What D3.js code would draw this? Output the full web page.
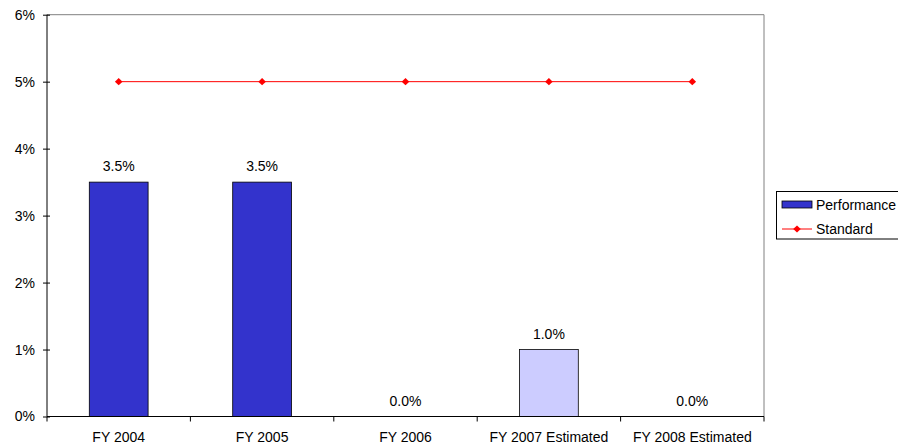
<!DOCTYPE html>
<html><head><meta charset="utf-8">
<script src="https://cdn.jsdelivr.net/npm/d3@7"></script>
<style>body{margin:0;background:#fff;} text{font-family:"Liberation Sans",Arial,sans-serif;}</style>
</head><body><svg id="c" width="898" height="446"></svg>
<script>
const categories = ["FY 2004","FY 2005","FY 2006","FY 2007 Estimated","FY 2008 Estimated"];
const performance = [3.5, 3.5, 0.0, 1.0, 0.0];
const estimated = [false, false, false, true, true];
const standard = [5, 5, 5, 5, 5];
const yTicks = [0,1,2,3,4,5,6];

const FS = 14;
const svg = d3.select("#c");
const L = 47, R = 764, T = 14.7, B = 416.5;
const x = d3.scaleBand().domain(categories).range([L, R]);
const y = d3.scaleLinear().domain([0, 6]).range([B, T]);

// plot border top & right
svg.append("line").attr("x1", L).attr("x2", R).attr("y1", T).attr("y2", T).attr("stroke", "#808080");
svg.append("line").attr("x1", R).attr("x2", R).attr("y1", T).attr("y2", B).attr("stroke", "#808080");

const bw = x.bandwidth() * 0.41;
svg.selectAll("rect.bar").data(performance).enter().append("rect")
  .attr("x", (d, i) => x(categories[i]) + x.bandwidth() / 2 - bw / 2)
  .attr("y", d => y(d)).attr("width", bw).attr("height", d => y(0) - y(d))
  .attr("fill", (d, i) => estimated[i] ? "#CCCCFF" : "#3333CC")
  .attr("stroke", "#000").attr("stroke-width", 0.8);

svg.selectAll("text.lbl").data(performance).enter().append("text")
  .attr("x", (d, i) => x(categories[i]) + x.bandwidth() / 2)
  .attr("y", d => y(d) - 11).attr("text-anchor", "middle")
  .attr("font-size", FS).attr("fill", "#000")
  .text(d => d.toFixed(1) + "%");

// axes
const yAxis = d3.axisLeft(y).tickValues(yTicks).tickFormat(d => d + "%").tickSize(5).tickPadding(7);
const gy = svg.append("g").attr("transform", `translate(${L},0)`).call(yAxis);
gy.selectAll("text").attr("font-size", FS).attr("fill", "#000").style("font-family", '"Liberation Sans",Arial,sans-serif');
gy.selectAll("line").attr("stroke", "#000").attr("x1", -4).attr("x2", 3);
gy.select(".domain").attr("d", `M0,${T}V${B}`).attr("stroke", "#000");

const gx = svg.append("g").attr("transform", `translate(0,${B})`);
gx.append("line").attr("x1", L).attr("x2", R).attr("stroke", "#000");
const bounds = categories.map(c => x(c)).concat([R]);
gx.selectAll("line.t").data(bounds).enter().append("line")
  .attr("x1", d => d).attr("x2", d => d).attr("y1", 0).attr("y2", 5).attr("stroke", "#000");
gx.selectAll("text").data(categories).enter().append("text")
  .attr("x", d => x(d) + x.bandwidth() / 2).attr("y", 25).attr("text-anchor", "middle")
  .attr("font-size", FS).attr("fill", "#000").text(d => d);

// standard line
const line = d3.line().x((d, i) => x(categories[i]) + x.bandwidth() / 2).y(d => y(d));
svg.append("path").datum(standard).attr("d", line).attr("fill", "none").attr("stroke", "#FF0000").attr("stroke-width", 1);
const diamond = "M0,-3.6L3.8,0L0,3.6L-3.8,0Z";
svg.selectAll("path.mk").data(standard).enter().append("path")
  .attr("d", diamond)
  .attr("transform", (d, i) => `translate(${x(categories[i]) + x.bandwidth() / 2},${y(d)})`)
  .attr("fill", "#FF0000");

// legend
const lg = svg.append("g");
lg.append("rect").attr("x", 776.5).attr("y", 191.5).attr("width", 125).attr("height", 47.5).attr("fill", "#fff").attr("stroke", "#000");
lg.append("rect").attr("x", 782).attr("y", 201).attr("width", 30).attr("height", 7).attr("fill", "#3333CC").attr("stroke", "#000").attr("stroke-width", 0.8);
lg.append("text").attr("x", 816).attr("y", 210).attr("font-size", FS).attr("fill", "#000").text("Performance");
lg.append("line").attr("x1", 782).attr("x2", 812).attr("y1", 229).attr("y2", 229).attr("stroke", "#FF0000");
lg.append("path").attr("d", diamond).attr("transform", "translate(797,229)").attr("fill", "#FF0000");
lg.append("text").attr("x", 816).attr("y", 234).attr("font-size", FS).attr("fill", "#000").text("Standard");
</script></body></html>
